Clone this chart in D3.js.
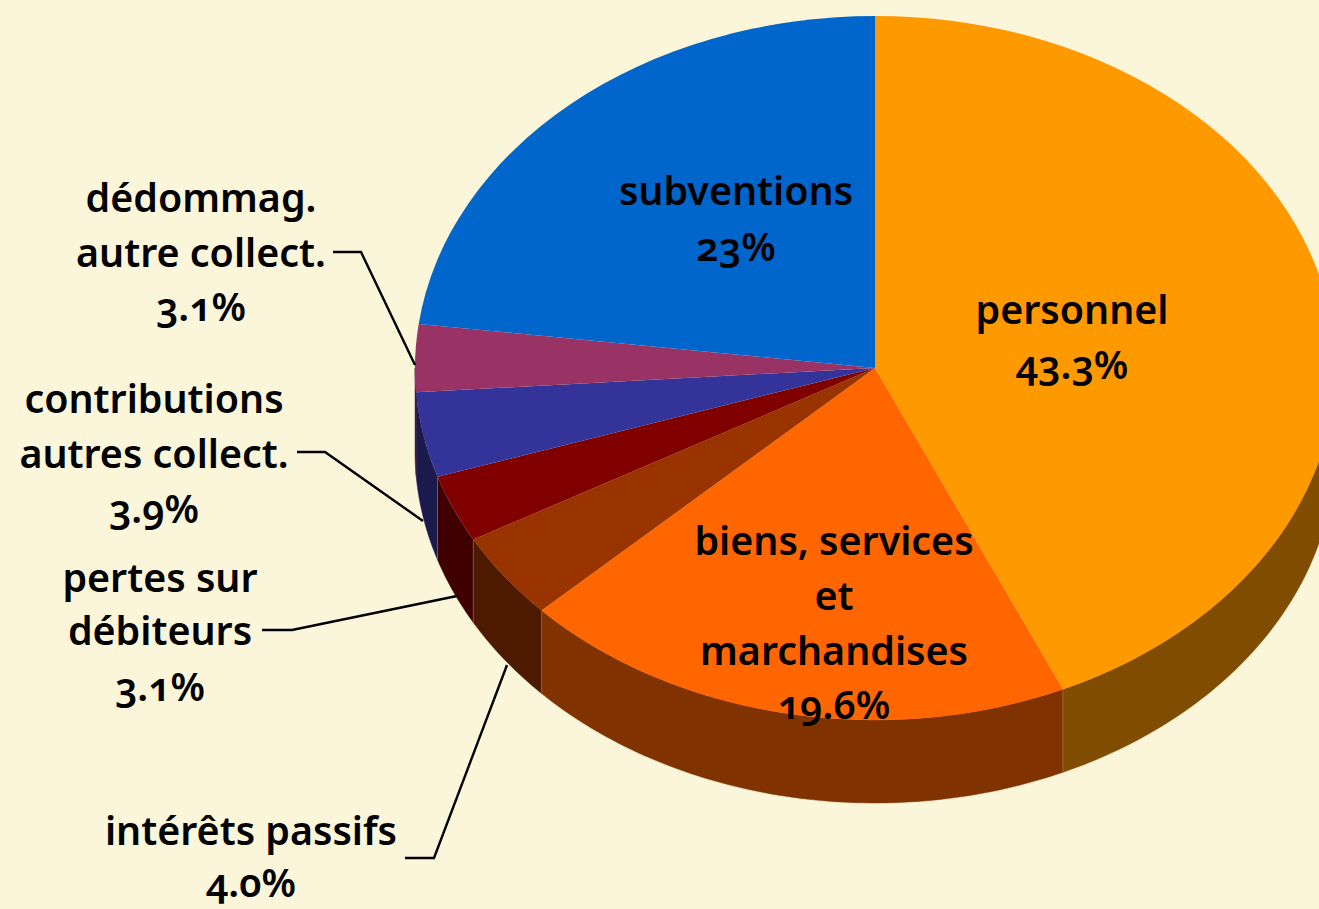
<!DOCTYPE html>
<html><head><meta charset="utf-8">
<script src="https://cdn.jsdelivr.net/npm/d3@7"></script>
<style>html,body{margin:0;padding:0;background:#fbf5d9;overflow:hidden}
text{font-family:"Noto Sans",sans-serif;font-weight:600;font-size:39.4px;fill:#000;text-anchor:middle;font-feature-settings:"onum" 1}</style>
</head><body><svg id="c" width="1319" height="909"></svg>
<script>
const categories=["personnel","biens, services et marchandises","intérêts passifs","pertes sur débiteurs","contributions autres collect.","dédommag. autre collect.","subventions"];
const values=[43.3,19.6,4.0,3.1,3.9,3.1,23];
const topColors=["#ff9900","#ff6600","#993300","#800000","#333399","#993366","#0066cc"];
const sideColors=["#7f4c00","#803300","#4d1a00","#400000","#1a1a4d","#4d1a33","#003366"];
const labelLines=[
 {i:0,x:1072,lines:[["personnel",324],["43.3%",379]]},
 {i:1,x:834,lines:[["biens, services",555],["et",610],["marchandises",665],["19.6%",719]]},
 {i:2,x:251,lines:[["intérêts passifs",845],["4.0%",897]]},
 {i:3,x:160,lines:[["pertes sur",592],["débiteurs",645],["3.1%",701]]},
 {i:4,x:154,lines:[["contributions",413],["autres collect.",468],["3.9%",523]]},
 {i:5,x:201,lines:[["dédommag.",212],["autre collect.",267],["3.1%",321]]},
 {i:6,x:736,lines:[["subventions",205],["23%",261]]}
];
const leaders=[
 [[333,252],[361,252],[415,365]],
 [[297,452],[325,452],[423,521]],
 [[262,630],[292,630],[457,596]],
 [[405,858],[434,858],[507,665]]
];
const cx=875,cy=368,rx=460,ry=352,depth=83;
const svg=d3.select("#c");
svg.append("rect").attr("width",1319).attr("height",909).attr("fill","#fbf5d9");
const arcs=d3.pie().sort(null)(values);
const ex=d3.scaleLinear().domain([-1,1]).range([cx-rx,cx+rx]);
const ey=d3.scaleLinear().domain([-1,1]).range([cy-ry,cy+ry]);
// sides
const sideG=svg.append("g");
arcs.forEach((a,i)=>{
  const s=Math.max(a.startAngle,Math.PI/2),e=Math.min(a.endAngle,Math.PI*1.5);
  if(e<=s)return;
  const n=Math.ceil((e-s)*60);
  const th=d3.range(n+1).map(k=>s+(e-s)*k/n);
  const pts=th.map(t=>[ex(Math.sin(t)),ey(-Math.cos(t))]);
  const low=th.slice().reverse().map(t=>[ex(Math.sin(t)),ey(-Math.cos(t))+depth]);
  sideG.append("path").attr("d",d3.line()(pts.concat(low))+"Z").attr("fill",sideColors[i]).attr("stroke",sideColors[i]).attr("stroke-width",0.5);
});
// seams on the side wall
arcs.forEach(a=>{
  const t=a.endAngle;
  if(t>Math.PI/2&&t<Math.PI*1.42){
    sideG.append("line").attr("x1",ex(Math.sin(t))).attr("x2",ex(Math.sin(t)))
      .attr("y1",ey(-Math.cos(t))).attr("y2",ey(-Math.cos(t))+depth)
      .attr("stroke","#c9a56a").attr("stroke-opacity",.45).attr("stroke-width",1);
  }
});
// top
const arc=d3.arc().innerRadius(0).outerRadius(1);
const topG=svg.append("g").attr("transform",`translate(${cx},${cy}) scale(${rx},${ry})`);
topG.selectAll("path").data(arcs).join("path").attr("d",arc).attr("fill",(d,i)=>topColors[i]);
// leaders
svg.append("g").selectAll("path").data(leaders).join("path").attr("d",d3.line()).attr("fill","none").attr("stroke","#000").attr("stroke-width",2.4);
// text
const textG=svg.append("g");
labelLines.forEach(l=>l.lines.forEach(([s,y])=>textG.append("text").attr("x",l.x).attr("y",y).text(s)));
</script></body></html>
